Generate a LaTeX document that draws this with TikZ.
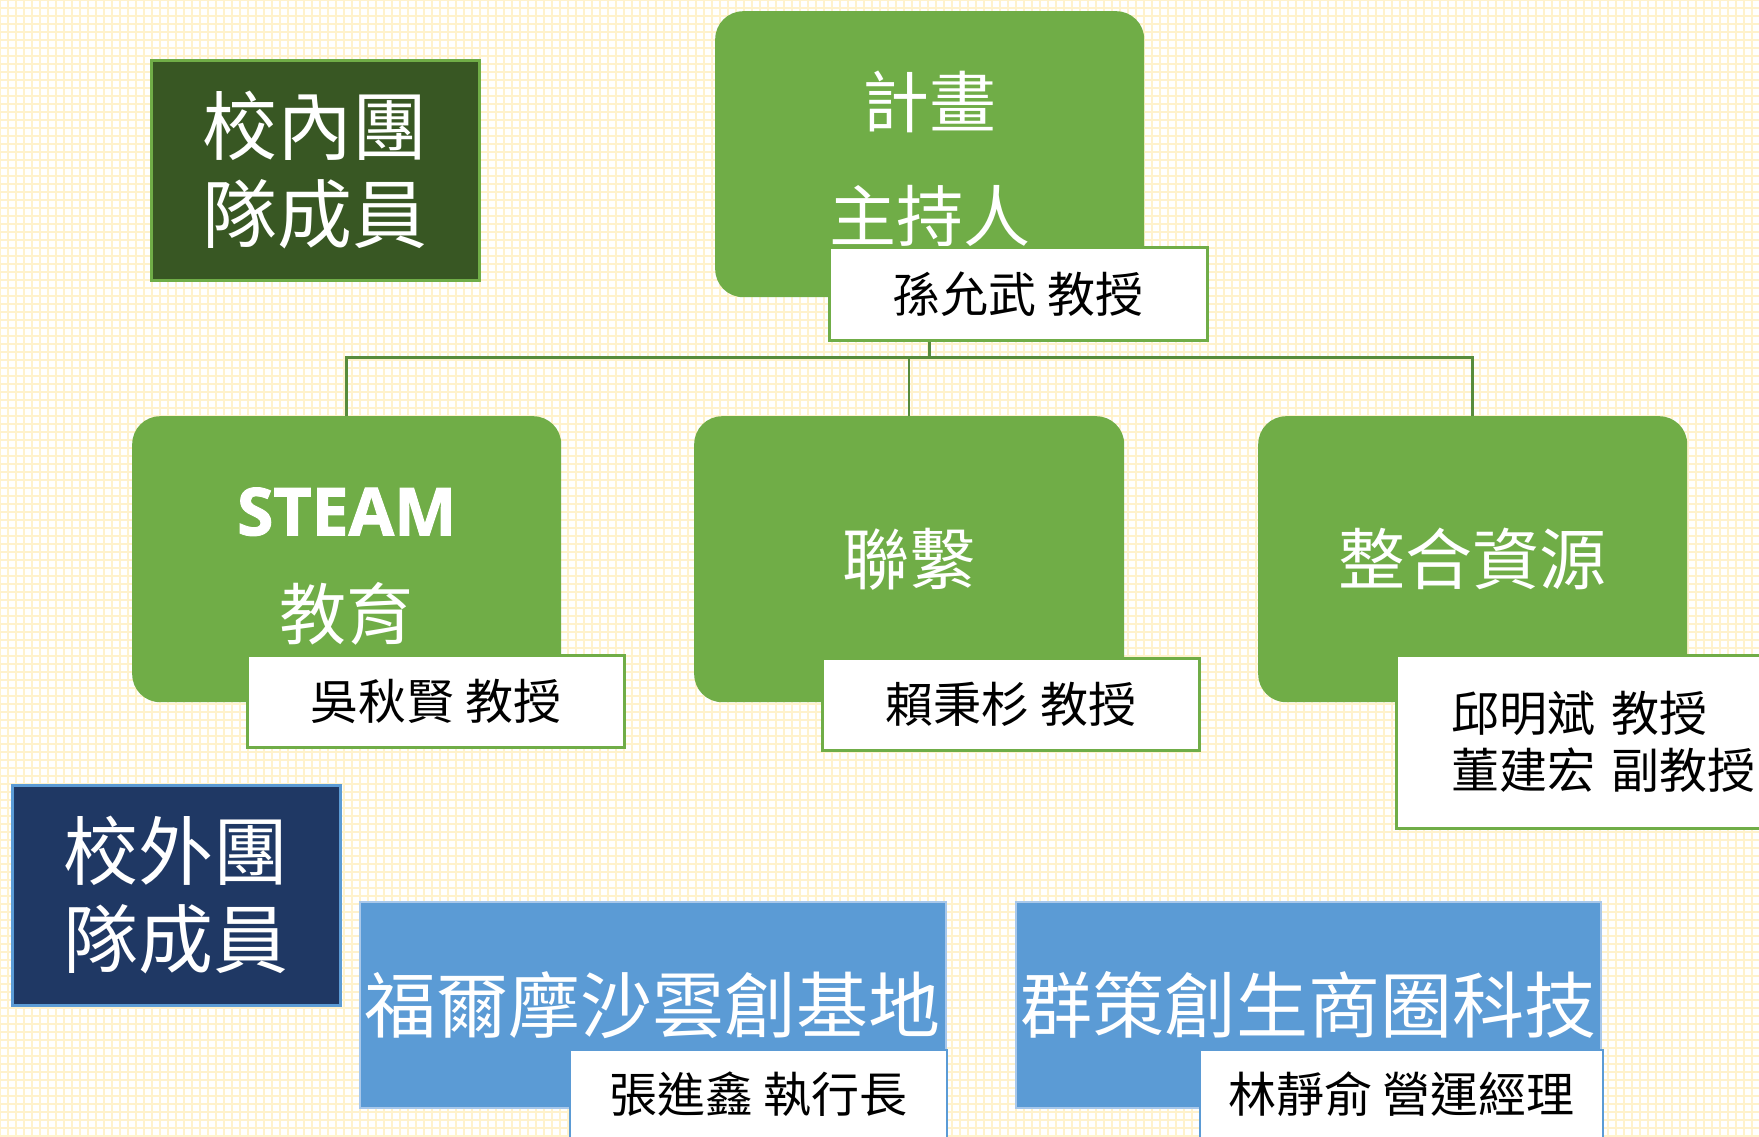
\documentclass[tikz,border=0pt]{standalone}
\usepackage{fontspec}
\setmainfont{Noto Sans CJK TC}
\newfontfamily\steamfont{Open Sans}[BoldFeatures={FakeBold=1.5}]
\definecolor{cGreen}{HTML}{70AD47}
\definecolor{cDark}{HTML}{385723}
\definecolor{cConn}{HTML}{588C3C}
\definecolor{cNavy}{HTML}{1F3864}
\definecolor{cBlue}{HTML}{5B9BD5}
\definecolor{cBlueEdge}{HTML}{A9C8EA}
\definecolor{cGrid}{HTML}{FFF2CC}
\begin{document}
\begin{tikzpicture}[x=1pt,y=-1pt,
  gnode/.style={anchor=north west, fill=cGreen, rounded corners=28pt, text=white, align=center, inner sep=0pt,
    minimum width=429pt, minimum height=286pt, font=\fontsize{67}{114}\selectfont},
  labbox/.style={anchor=north west, fill=white, draw=cGreen, line width=2.5pt, text=black, align=center, inner sep=0pt,
    font=\fontsize{48}{57}\selectfont},
  bluelab/.style={labbox, draw=cBlue, line width=2pt},
  titlebox/.style={anchor=north west, text=white, align=center, inner sep=0pt, line width=2.5pt,
    minimum width=328pt, minimum height=220pt, font=\fontsize{75}{88}\selectfont},
  bluebox/.style={anchor=north west, fill=cBlue, draw=cBlueEdge, line width=1.5pt, text=white, inner sep=0pt,
    minimum height=206pt, font=\fontsize{72}{80}\selectfont},
  conn/.style={draw=cConn, line width=2.5pt}
]
\useasboundingbox (0,0) rectangle (1759,1136);
\clip (0,0) rectangle (1759,1136);
\fill[white] (0,0) rectangle (1759,1136);
\foreach \gx in {0,8,...,1760} {\draw[cGrid, line width=2pt] (\gx,0) -- (\gx,1136);}
\foreach \gy in {0,8,...,1136} {\draw[cGrid, line width=2pt] (0,\gy) -- (1759,\gy);}

% in-school title
\node[titlebox, fill=cDark, draw=cGreen] (inner) at (150,59) {校內團\\隊成員};

% main green nodes
\node[gnode] (top) at (715,11) {\rule{0pt}{66pt}計畫\\主持人};
\node[gnode, font=\fontsize{67}{104}\selectfont] (steam) at (132,416) {{\steamfont\bfseries\fontsize{66}{104}\selectfont\rule{0pt}{62pt}STEAM}\\教育};
\node[gnode, minimum width=430pt] (link) at (694,416) {聯繫};
\node[gnode] (res) at (1258,416) {整合資源};

% connectors
\draw[conn] (top.south) -- ++(0,60) coordinate (j);
\draw[conn] (steam.north) -- (steam.north |- j) -- (res.north |- j) -- (res.north);
\draw[conn] (link.north) -- (link.north |- j);

% name labels
\node[labbox, minimum width=378pt, minimum height=93pt] (lab0) at (828,246) {孫允武 教授};
\node[labbox, minimum width=377pt, minimum height=92pt] (lab1) at (246,654) {吳秋賢 教授};
\node[labbox, minimum width=377pt, minimum height=92pt] (lab2) at (821,657) {賴秉杉 教授};
\node[labbox, align=left, text width=330pt, inner xsep=55pt, minimum height=173pt] (lab3) at (1395,654) {邱明斌 教授\\董建宏 副教授};

% external team
\node[titlebox, fill=cNavy, draw=cBlue] (outer) at (11,784) {校外團\\隊成員};
\node[bluebox, minimum width=586pt] (blue1) at (359,901) {福爾摩沙雲創基地};
\node[bluebox, minimum width=585pt] (blue2) at (1015,901) {群策創生商圈科技};
\node[bluelab, minimum width=377pt, minimum height=88pt] (lab4) at (569,1049) {張進鑫 執行長};
\node[bluelab, minimum width=403pt, minimum height=88pt] (lab5) at (1199,1049) {林靜俞 營運經理};
\end{tikzpicture}
\end{document}
